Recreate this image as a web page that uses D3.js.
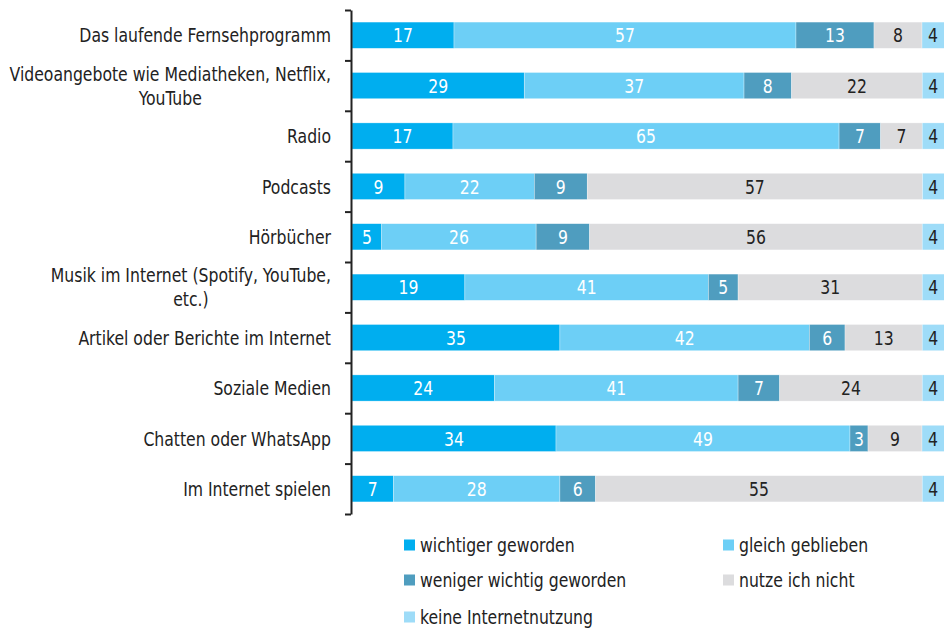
<!DOCTYPE html>
<html>
<head>
<meta charset="utf-8">
<script src="https://cdn.jsdelivr.net/npm/d3@7"></script>
<style>
  body { margin: 0; background: #fff; }
  svg { font-family: "DejaVu Sans Condensed", "DejaVu Sans", sans-serif; }
</style>
</head>
<body>
<div id="chart"></div>
<script>
// categories (label lines)
const categories = [
  ['Das laufende Fernsehprogramm'],
  ['Videoangebote wie Mediatheken, Netflix,', 'YouTube'],
  ['Radio'],
  ['Podcasts'],
  ['Hörbücher'],
  ['Musik im Internet (Spotify, YouTube,', 'etc.)'],
  ['Artikel oder Berichte im Internet'],
  ['Soziale Medien '],
  ['Chatten oder WhatsApp'],
  ['Im Internet spielen']
];

const seriesNames = ['wichtiger geworden', 'gleich geblieben', 'weniger wichtig geworden', 'nutze ich nicht', 'keine Internetnutzung'];
const seriesColors = ['#00aeef', '#6dcff6', '#4f9dbf', '#dcdcde', '#9edcf8'];
const labelColors = ['#fff', '#fff', '#fff', '#222', '#222'];

const wichtiger = [17, 29, 17, 9, 5, 19, 35, 24, 34, 7];
const gleich = [57, 37, 65, 22, 26, 41, 42, 41, 49, 28];
const weniger = [13, 8, 7, 9, 9, 5, 6, 7, 3, 6];
const nutzeNicht = [8, 22, 7, 57, 56, 31, 13, 24, 9, 55];
const keinInternet = [4, 4, 4, 4, 4, 4, 4, 4, 4, 4];

const seriesValues = [wichtiger, gleich, weniger, nutzeNicht, keinInternet];

const width = 944, height = 628;
const plotTop = 10, plotBottom = 514, axisX = 351;
const fontSize = 20, squeeze = 0.87; // condensed look

const table = categories.map((c, i) => {
  const row = { idx: i };
  seriesNames.forEach((s, j) => row[s] = seriesValues[j][i]);
  return row;
});

const stack = d3.stack().keys(seriesNames).offset(d3.stackOffsetExpand);
const stacked = stack(table);

const svg = d3.select('#chart').append('svg')
  .attr('width', width)
  .attr('height', height);

const y = d3.scaleBand()
  .domain(d3.range(categories.length))
  .range([plotTop, plotBottom])
  .paddingInner(0.48)
  .paddingOuter(0.24);

const yEdges = d3.scaleLinear()
  .domain([0, categories.length])
  .range([plotTop, plotBottom]);

const x = d3.scaleLinear()
  .domain([0, 1])
  .range([axisX + 1, 946]);

// bars
const groups = svg.selectAll('.series')
  .data(stacked)
  .enter().append('g')
  .attr('class', 'series')
  .attr('fill', (d, i) => seriesColors[i]);

groups.selectAll('rect')
  .data(d => d)
  .enter().append('rect')
  .attr('x', d => x(d[0]))
  .attr('y', d => y(d.data.idx))
  .attr('width', d => x(d[1]) - x(d[0]))
  .attr('height', y.bandwidth())
  .attr('stroke', '#fff')
  .attr('stroke-width', 0.6)
  .attr('stroke-opacity', 0.5);

groups.selectAll('text')
  .data((d, i) => d.map(v => ({ v, s: i })))
  .enter().append('text')
  .attr('transform', d => {
    const cx = (x(d.v[0]) + Math.min(x(d.v[1]), width)) / 2;
    const cy = y(d.v.data.idx) + y.bandwidth() / 2;
    return `translate(${cx},${cy}) scale(${squeeze},1)`;
  })
  .attr('dy', '0.36em')
  .attr('text-anchor', 'middle')
  .attr('font-size', fontSize)
  .attr('fill', d => labelColors[d.s])
  .text(d => d.v.data[seriesNames[d.s]]);

// axis
const axis = svg.append('g')
  .attr('transform', `translate(${axisX},0)`)
  .call(d3.axisLeft(yEdges).ticks(categories.length).tickFormat('').tickSize(6).tickSizeOuter(0));
axis.select('.domain').attr('stroke', '#222').attr('stroke-width', 2);
axis.selectAll('.tick line').attr('stroke', '#222').attr('stroke-width', 2);

// category labels
const labelRight = 331;
const lineH = 24;
const cats = svg.append('g').selectAll('text')
  .data(categories)
  .enter().append('text')
  .attr('font-size', fontSize)
  .attr('fill', '#222')
  .attr('text-anchor', 'middle');

cats.each(function(lines, i) {
  const t = d3.select(this);
  const cy = y(i) + y.bandwidth() / 2;
  lines.forEach((l, k) => {
    t.append('tspan')
      .attr('x', 0)
      .attr('y', (k - (lines.length - 1) / 2) * lineH)
      .attr('dy', '0.36em')
      .text(l);
  });
  let maxW = 0;
  t.selectAll('tspan').each(function() { maxW = Math.max(maxW, this.getComputedTextLength()); });
  t.attr('transform', `translate(${labelRight - maxW * squeeze / 2},${cy}) scale(${squeeze},1)`);
});

// legend
const legendPos = [[404, 545], [723, 545], [404, 580], [723, 580], [404, 617]];
const legend = svg.append('g').selectAll('g')
  .data(seriesNames)
  .enter().append('g')
  .attr('transform', (d, i) => `translate(${legendPos[i][0]},${legendPos[i][1]})`);

legend.append('rect')
  .attr('x', 0).attr('y', -5.5)
  .attr('width', 11).attr('height', 11)
  .attr('fill', (d, i) => seriesColors[i]);

legend.append('text')
  .attr('transform', `translate(16,0) scale(${squeeze},1)`)
  .attr('dy', '0.36em')
  .attr('font-size', fontSize)
  .attr('fill', '#222')
  .text(d => d);
</script>
</body>
</html>
